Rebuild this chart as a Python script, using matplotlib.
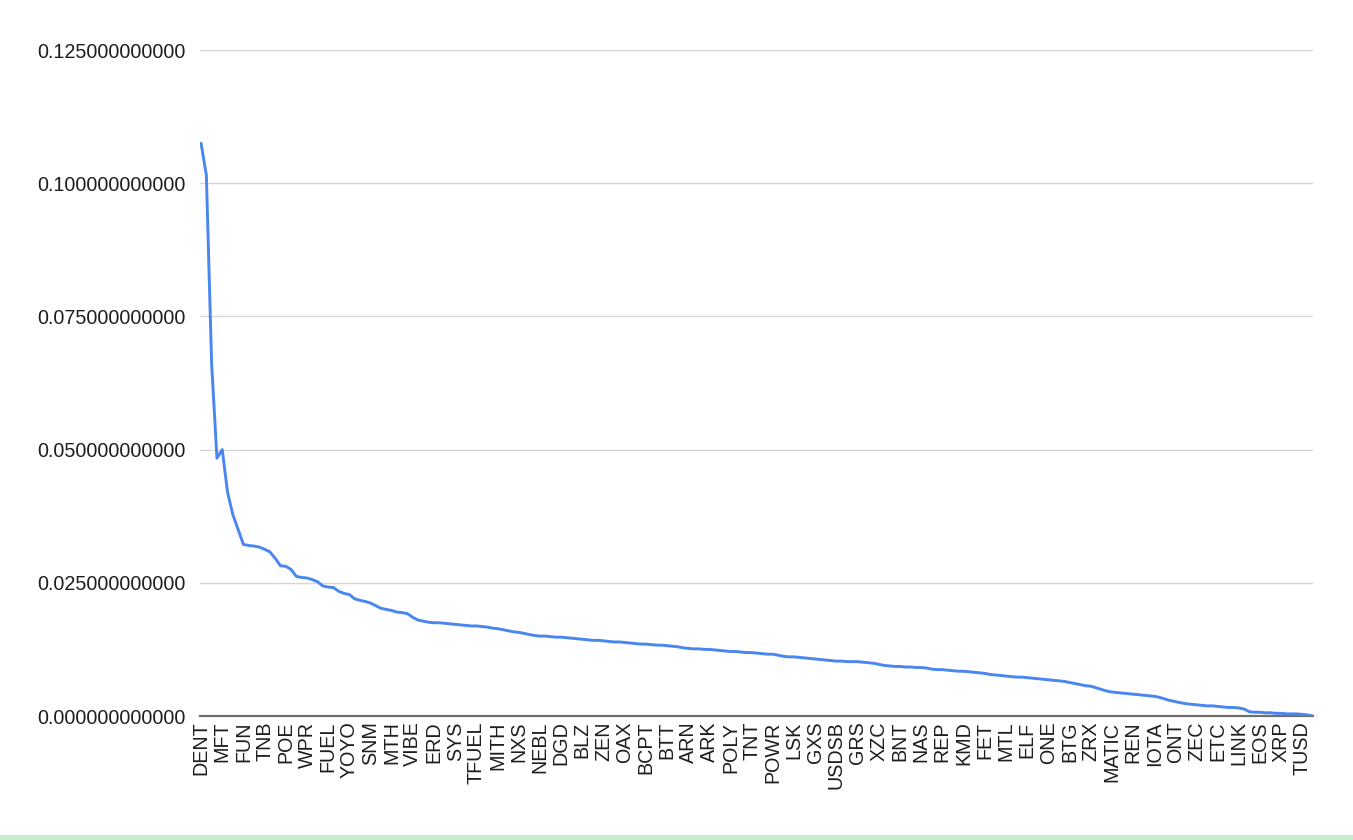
import matplotlib
matplotlib.use("Agg")
import matplotlib.pyplot as plt
from matplotlib.patches import Rectangle
from matplotlib.ticker import FormatStrFormatter

plt.rcParams['font.family'] = ['Liberation Sans', 'DejaVu Sans']

# tick labels (every 4th category is labelled)
tick_labels = ["DENT", "MFT", "FUN", "TNB", "POE", "WPR", "FUEL", "YOYO", "SNM", "MTH",
               "VIBE", "ERD", "SYS", "TFUEL", "MITH", "NXS", "NEBL", "DGD", "BLZ", "ZEN",
               "OAX", "BCPT", "BTT", "ARN", "ARK", "POLY", "TNT", "POWR", "LSK", "GXS",
               "USDSB", "GRS", "XZC", "BNT", "NAS", "REP", "KMD", "FET", "MTL", "ELF",
               "ONE", "BTG", "ZRX", "MATIC", "REN", "IOTA", "ONT", "ZEC", "ETC", "LINK",
               "EOS", "XRP", "TUSD"]
label_step = 4

values = [
    0.1075, 0.1015, 0.0660, 0.0484,
    0.0500, 0.0420, 0.0378, 0.0350,
    0.0322, 0.0320, 0.0319, 0.0317,
    0.0313, 0.0308, 0.0296, 0.0282,
    0.0281, 0.0275, 0.0262, 0.0260,
    0.0259, 0.0256, 0.0252, 0.0244,
    0.0242, 0.0241, 0.0234, 0.0230,
    0.0228, 0.0220, 0.0217, 0.0215,
    0.0212, 0.0207, 0.0202, 0.0200,
    0.0198, 0.0195, 0.0194, 0.0192,
    0.0185, 0.0180, 0.0178, 0.0176,
    0.0175, 0.0175, 0.0174, 0.0173,
    0.0172, 0.0171, 0.0170, 0.0169,
    0.0169, 0.0168, 0.0167, 0.0165,
    0.0164, 0.0162, 0.0160, 0.0158,
    0.0157, 0.0155, 0.0153, 0.0151,
    0.0150, 0.0150, 0.0149, 0.0148,
    0.0148, 0.0147, 0.0146, 0.0145,
    0.0144, 0.0143, 0.0142, 0.0142,
    0.0141, 0.0140, 0.0139, 0.0139,
    0.0138, 0.0137, 0.0136, 0.0135,
    0.0135, 0.0134, 0.0133, 0.0133,
    0.0132, 0.0131, 0.0130, 0.0128,
    0.0127, 0.0126, 0.0126, 0.0125,
    0.0125, 0.0124, 0.0123, 0.0122,
    0.0121, 0.0121, 0.0120, 0.0119,
    0.0119, 0.0118, 0.0117, 0.0116,
    0.0116, 0.0114, 0.0112, 0.0111,
    0.0111, 0.0110, 0.0109, 0.0108,
    0.0107, 0.0106, 0.0105, 0.0104,
    0.0103, 0.0103, 0.0102, 0.0102,
    0.0102, 0.0101, 0.0100, 0.0099,
    0.0097, 0.0095, 0.0094, 0.0093,
    0.0093, 0.0092, 0.0092, 0.0091,
    0.0091, 0.0090, 0.0088, 0.0087,
    0.0087, 0.0086, 0.0085, 0.0084,
    0.0084, 0.0083, 0.0082, 0.0081,
    0.0080, 0.0078, 0.0077, 0.0076,
    0.0075, 0.0074, 0.0073, 0.0073,
    0.0072, 0.0071, 0.0070, 0.0069,
    0.0068, 0.0067, 0.0066, 0.0065,
    0.0063, 0.0061, 0.0059, 0.0057,
    0.0056, 0.0053, 0.0050, 0.0047,
    0.0045, 0.0044, 0.0043, 0.0042,
    0.0041, 0.0040, 0.0039, 0.0038,
    0.0037, 0.0035, 0.0032, 0.0029,
    0.0027, 0.0025, 0.0023, 0.0022,
    0.0021, 0.0020, 0.0019, 0.0019,
    0.0018, 0.0017, 0.0016, 0.0016,
    0.0015, 0.0013, 0.0008, 0.0007,
    0.0007, 0.0006, 0.0006, 0.0005,
    0.0005, 0.0004, 0.0004, 0.0004,
    0.0003, 0.0002, 0.0000,
]
y_ticks = [0.0, 0.025, 0.05, 0.075, 0.1, 0.125]

W, H = 1353, 840
fig = plt.figure(figsize=(W / 100, H / 100), dpi=100)
fig.patch.set_facecolor("white")
ax = fig.add_axes([200 / W, 1 - 716 / H, (1313 - 200) / W, (716 - 50) / H])

x = list(range(len(values)))
ax.plot(x, values, color="#4a86f0", linewidth=2.1, solid_joinstyle="round",
        solid_capstyle="round")

ax.set_xlim(-0.2, len(values) - 1)
ax.set_ylim(0, 0.125)
ax.set_yticks(y_ticks)
ax.yaxis.set_major_formatter(FormatStrFormatter("%.12f"))
ax.set_xticks(list(range(0, len(values), label_step))[:len(tick_labels)])
ax.set_xticklabels(tick_labels, rotation=90, va="top", ha="center")

ax.grid(axis="y", color="#d6d6d6", linewidth=1.0)
ax.set_axisbelow(True)
for s in ["top", "right", "left"]:
    ax.spines[s].set_visible(False)
ax.spines["bottom"].set_color("#6e6e6e")
ax.spines["bottom"].set_linewidth(1.6)
ax.spines["bottom"].set_zorder(1)
ax.tick_params(axis="both", length=0, labelsize=14.2, colors="#1e1e1e")
ax.tick_params(axis="y", pad=10)
ax.tick_params(axis="x", pad=4)

fig.patches.append(Rectangle((0, 0), 1, 5 / H, transform=fig.transFigure,
                             facecolor="#c8ecca", edgecolor="none"))

fig.savefig("out.png", dpi=100)
